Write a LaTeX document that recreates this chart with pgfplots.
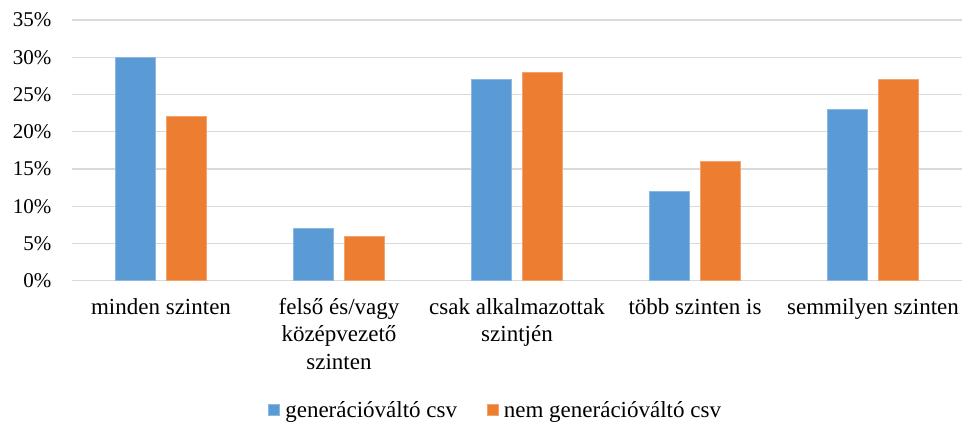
\documentclass[border=0pt]{standalone}
\usepackage{fontspec}
\setmainfont{Liberation Serif}
\usepackage{pgfplots}
\pgfplotsset{compat=1.18}
\definecolor{cblue}{HTML}{5B9BD5}
\definecolor{corange}{HTML}{ED7D31}
\definecolor{cgrid}{HTML}{D9D9D9}
\begin{document}
\begin{tikzpicture}
\useasboundingbox (-72pt,-145.3pt) rectangle (890pt,280.7pt);
\begin{axis}[
  scale only axis,
  width=890pt, height=260.7pt,
  xmin=-0.5, xmax=4.5,
  ymin=0, ymax=35,
  ytick={0,5,10,15,20,25,30,35},
  xtick={0,1,2,3,4},
  xticklabels={minden szinten,{felső és/vagy\\középvezető\\szinten},{csak alkalmazottak\\szintjén},több szinten is,semmilyen szinten},
  xticklabel style={align=center, font=\fontsize{23}{27.5}\selectfont, anchor=north, yshift=-14pt},
  yticklabel style={font=\fontsize{21}{24}\selectfont, xshift=-17pt},
  yticklabel={\pgfmathprintnumber{\tick}\%},
  /pgf/number format/assume math mode=true,
  axis line style={draw=none},
  major tick length=0pt,
  ymajorgrids,
  grid style={cgrid, line width=1.4pt},
  ybar,
  bar width=40pt,
  legend columns=2,
  legend style={at={(axis description cs:0.475,-0.496)}, anchor=center, draw=none, font=\fontsize{23}{24}\selectfont,
    /tikz/every even column/.append style={column sep=26pt}},
  legend image code/.code={\fill[#1] (0pt,-5pt) rectangle (11pt,6pt); \path (-2pt,0pt) (14pt,0pt);},
]
\addplot[fill=cblue, draw=cblue!70!white, line width=0.8pt, bar shift=-25.25pt] coordinates {(0,30) (1,7) (2,27) (3,12) (4,23)};
\addlegendentry{generációváltó csv}
\addplot[fill=corange, draw=corange!70!white, line width=0.8pt, bar shift=25.25pt] coordinates {(0,22) (1,6) (2,28) (3,16) (4,27)};
\addlegendentry{nem generációváltó csv}
\end{axis}
\end{tikzpicture}
\end{document}
